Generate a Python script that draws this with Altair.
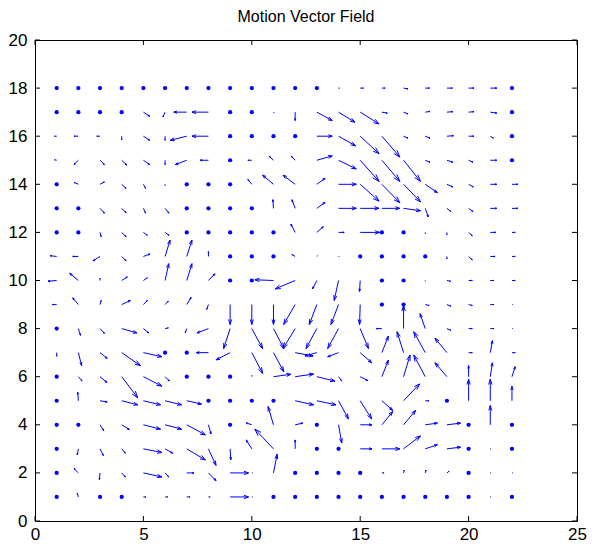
import altair as alt
import pandas as pd

# grid of the motion vector field
xs = list(range(1, 23))          # columns x = 1..22
ys = list(range(18, 0, -1))      # rows y = 18..1 (top to bottom)

# horizontal components (rows from y=18 down to y=1)
U = [
    [0, 0, 0, 0, 0, 0, 0, 0, 0, 0, 0, 0, 0, 0.05, 0.15, 0.15, 0.2, 0.2, 0.25, 0.25, 0.3, 0],
    [0, 0, 0, 0, 0.29, -0.1, -0.6, -0.76, 0, 0, 0.03, 0, 0.71, 0.76, 0.87, 0.25, 0.2, 0.22, 0.27, 0.25, 0.3, 0],
    [-0.1, -0.2, -0.15, 0, 0.29, 0, -0.76, -0.76, 0, 0, 0, 0, 0.71, 0.79, 0.87, 0.83, 0.2, 0.22, 0.3, 0.25, 0.15, 0],
    [-0.1, -0.2, 0.2, 0.23, 0.29, 0, -0.53, -0.38, 0, -0.18, -0.2, -0.18, 0.71, 0.82, 0.87, 0.83, 0.78, 0.22, 0.27, 0.2, 0.3, 0],
    [0, -0.2, 0.2, 0.2, 0.1, 0, 0, 0, 0, -0.18, -0.5, -0.56, 0.38, 0.82, 0.87, 0.83, 0.78, 0.56, 0.27, 0.22, 0.3, 0.28],
    [0, 0, 0.2, 0.2, 0.1, 0.18, 0, 0, 0, 0, -0.03, -0.15, 0.38, 0.82, 0.87, 0.83, 0.78, 0.14, 0.18, 0.2, 0.3, 0.28],
    [0, 0, 0.05, 0.2, 0.18, 0.18, 0, 0, 0, 0, 0, -0.2, 0.3, 0.26, 0.9, 0, 0, 0, 0, 0.17, 0.26, 0.15],
    [-0.3, -0.26, -0.32, 0.2, 0.3, 0.23, 0.24, 0, 0, 0, 0, -0.15, 0.03, 0.03, 0, 0, 0, 0, 0, 0.17, 0.22, 0.15],
    [-0.4, -0.4, 0, 0.26, 0.18, 0.17, 0.24, 0.3, 0, 0, -0.86, -0.92, -0.2, -0.2, -0.03, 0, 0, 0, 0.17, 0.17, 0.17, 0.15],
    [-0.2, -0.26, 0.05, 0.4, 0.18, 0.15, 0.2, -0.08, 0, 0, 0, -0.53, -0.35, -0.35, -0.03, 0, 0, 0.18, 0.18, 0.17, 0.17, 0.03],
    [0, 0.1, 0.2, 0.7, 0.24, 0.15, -0.07, -0.53, -0.3, 0.5, 0.48, -0.56, -0.5, -0.5, 0.38, -0.26, 0, -0.24, 0.18, 0.17, 0.17, 0.03],
    [0, 0.15, 0.33, 0.86, 0.85, 0, 0, -0.56, -0.65, 0.5, 0.48, 0.83, -0.55, -0.5, 0.53, 0.3, -0.3, -0.53, -0.55, 0.17, 0.1, 0.15],
    [0, 0.17, 0.32, 0.74, 0.85, 0.2, 0, 0, 0, 0, 0.8, 0.85, 0.83, 0.15, 0.35, 0.3, 0.3, -0.53, -0.55, 0, 0.1, 0.15],
    [0, -0.03, 0.33, 0.74, 0.79, 0.76, 0.68, 0, 0, 0, 0, 0.85, 0.88, 0.46, 0.53, 0.5, 0.74, 0.17, 0, 0, 0, 0],
    [0, 0, 0.17, 0.35, 0.79, 0.76, 0.86, 0.12, 0, -0.26, -0.25, 0.35, 0, 0.15, 0.54, 0.5, 0.56, 0.56, 0.63, 0, 0, 0],
    [0, -0.05, 0.15, 0.17, 0.85, 0.35, 0.86, 0.35, 0.03, -0.26, -0.86, 0, 0, 0, 0.54, 0.83, 0.78, 0.56, 0.63, 0, 0.03, 0],
    [0, -0.2, -0.03, 0.17, 0.85, 0.17, 0.33, 0.35, 0.85, 0.03, 0.17, 0, 0, 0, 0, 0.1, 0.03, 0.04, 0.1, 0, 0.03, 0.03],
    [0, -0.05, 0, 0, 0.12, 0.12, 0.15, 0.08, 0.85, 0.03, 0, 0, 0, 0, 0, 0, 0, 0, 0, 0, 0.03, 0],
]

# vertical components (rows from y=18 down to y=1)
V = [
    [0, 0, 0, 0, 0, 0, 0, 0, 0, 0, 0, 0, 0, 0, 0, 0, -0.03, 0, 0, 0, 0, 0],
    [0, 0, 0, 0, -0.17, -0.2, 0, 0, 0, 0, -0.03, -0.35, -0.35, -0.42, -0.49, -0.04, -0.07, 0.03, 0.02, 0.02, -0.04, 0],
    [0, 0, 0, -0.15, -0.17, -0.17, -0.17, 0, 0, 0, 0, 0, 0, -0.4, -0.73, -0.87, -0.08, -0.08, 0.02, 0, -0.08, 0],
    [0.02, -0.18, -0.18, -0.2, -0.18, -0.18, -0.18, 0, 0, 0, 0.17, 0.17, 0.18, -0.36, -0.88, -0.88, -0.88, -0.08, -0.08, -0.08, 0, 0],
    [0, 0.08, 0.1, -0.17, -0.17, -0.05, 0, 0, 0, 0.2, 0.38, 0.38, 0.25, 0, -0.7, -0.77, -0.73, -0.35, -0.11, -0.11, 0, 0],
    [0, 0, -0.2, -0.18, -0.2, -0.2, 0, 0, 0, 0, 0.36, 0.36, 0.25, 0, 0, 0, -0.1, -0.36, -0.13, -0.13, 0, 0],
    [0, 0, -0.18, -0.18, -0.12, -0.12, 0, 0, 0, 0, 0, 0.35, 0.24, 0, 0, 0, 0, -0.05, -0.1, -0.14, 0, 0],
    [0.03, 0, -0.18, -0.18, 0.1, 0.68, 0.68, 0.2, 0, 0, 0, 0.08, 0.03, 0, 0, 0, 0, 0, -0.1, -0.14, 0, 0],
    [-0.03, 0.3, 0.1, 0.15, 0.11, 0.7, 0.7, 0.28, 0, 0, 0.03, -0.35, -0.35, -0.83, -0.46, 0, 0, -0.03, -0.03, 0, 0, 0],
    [0, 0.28, 0.17, 0.17, 0.17, 0.14, 0.3, -0.2, -0.83, -0.83, -0.83, -0.83, -0.83, -0.83, -0.83, 0, 0, -0.04, -0.07, -0.04, 0, 0],
    [0, -0.28, -0.2, -0.18, -0.18, 0.03, -0.18, -0.18, -0.83, -0.83, -0.83, -0.83, -0.83, -0.83, -0.83, 0, 0.97, 0.62, -0.07, 0, 0, 0],
    [-0.15, -0.54, -0.24, -0.54, -0.17, 0, 0, 0, -0.3, -0.86, -0.8, -0.14, -0.14, -0.17, -0.42, 0.69, 0.87, 0.87, 0.6, 0, 0.5, 0],
    [0, -0.18, -0.24, -0.88, -0.39, -0.18, 0, 0, 0, 0.05, 0.1, 0.11, -0.18, -0.18, -0.16, 0.69, 0.9, 0.9, 0.58, 0.46, 0.58, 0.42],
    [0, 0.35, -0.05, -0.17, -0.17, -0.17, -0.14, 0, 0, 0, 0, -0.17, -0.17, -0.76, -0.76, -0.4, 0.7, 0, 0, 0.9, 0.9, 0.6],
    [0, 0, -0.24, -0.2, -0.18, -0.18, -0.42, -0.38, 0, 0.08, 0.76, 0.07, 0, -0.76, 0, 0.55, 0.6, 0.07, 0.07, 0, 0.8, 0],
    [0, -0.25, -0.28, -0.18, -0.15, -0.18, -0.46, -0.69, -0.46, 0.37, 0.82, 0.37, 0, 0, 0, 0, 0.54, 0.17, 0.07, 0, 0, 0],
    [0, 0.18, -0.28, -0.17, -0.17, -0.17, 0, -0.32, 0, 0, 0.78, 0, 0, 0, 0, 0, 0.12, 0.12, 0.07, 0, 0, 0],
    [0, 0.15, 0, 0, 0, 0, 0, 0, 0, 0, 0, 0, 0, 0, 0, 0, 0, 0, 0, 0, 0, 0],
]

x_ticks = [0, 5, 10, 15, 20, 25]
y_ticks = [0, 2, 4, 6, 8, 10, 12, 14, 16, 18, 20]

# arrowhead geometry (MATLAB quiver style)
ALPHA, BETA = 0.25, 0.33

seg_rows, dot_rows = [], []
for i, y in enumerate(ys):
    for j, x in enumerate(xs):
        u, v = U[i][j], V[i][j]
        if u == 0 and v == 0:
            dot_rows.append({"x": x, "y": y})
            continue
        tx, ty = x + u, y + v
        seg_rows.append({"x0": x, "y0": y, "x1": tx, "y1": ty})
        seg_rows.append({"x0": tx, "y0": ty,
                         "x1": tx - ALPHA * (u + BETA * v), "y1": ty - ALPHA * (v - BETA * u)})
        seg_rows.append({"x0": tx, "y0": ty,
                         "x1": tx - ALPHA * (u - BETA * v), "y1": ty - ALPHA * (v + BETA * u)})

segs = pd.DataFrame(seg_rows)
dots = pd.DataFrame(dot_rows)

W, H = 542, 481
FONT = "Liberation Sans"
BLUE = "#0000ff"
TL = 5

xscale = alt.Scale(domain=[0, 25], nice=False, zero=False)
yscale = alt.Scale(domain=[0, 20], nice=False, zero=False)
xaxis = alt.Axis(values=x_ticks, labelPadding=5, title=None, grid=False,
                 domain=False, ticks=False, labelFont=FONT, labelFontSize=17,
                 labelColor="black", labelFlush=False)
yaxis = alt.Axis(values=y_ticks, labelPadding=8, title=None, grid=False,
                 domain=False, ticks=False, labelFont=FONT, labelFontSize=17,
                 labelColor="black", labelFlush=False)

arrows = alt.Chart(segs).mark_rule(color=BLUE, strokeWidth=1).encode(
    x=alt.X("x0:Q", scale=xscale, axis=xaxis),
    y=alt.Y("y0:Q", scale=yscale, axis=yaxis),
    x2="x1:Q",
    y2="y1:Q",
)

points = alt.Chart(dots).mark_circle(color=BLUE, size=18, opacity=1).encode(
    x=alt.X("x:Q", scale=xscale, axis=xaxis),
    y=alt.Y("y:Q", scale=yscale, axis=yaxis),
)

xt = pd.DataFrame({"t": x_ticks})
yt = pd.DataFrame({"t": y_ticks})
tick_bottom = alt.Chart(xt).mark_rule(color="black", strokeWidth=1).encode(
    x=alt.X("t:Q", scale=xscale, axis=xaxis), y=alt.value(H), y2=alt.value(H - TL))
tick_top = alt.Chart(xt).mark_rule(color="black", strokeWidth=1).encode(
    x=alt.X("t:Q", scale=xscale, axis=xaxis), y=alt.value(0), y2=alt.value(TL))
tick_left = alt.Chart(yt).mark_rule(color="black", strokeWidth=1).encode(
    y=alt.Y("t:Q", scale=yscale, axis=yaxis), x=alt.value(0), x2=alt.value(TL))
tick_right = alt.Chart(yt).mark_rule(color="black", strokeWidth=1).encode(
    y=alt.Y("t:Q", scale=yscale, axis=yaxis), x=alt.value(W), x2=alt.value(W - TL))

chart = alt.layer(
    arrows, points, tick_bottom, tick_top, tick_left, tick_right
).properties(
    width=W,
    height=H,
    title=alt.TitleParams("Motion Vector Field", font=FONT, fontSize=16,
                          fontWeight="normal", color="black", offset=6),
    padding={"left": 0, "top": 1, "right": 2, "bottom": 2},
    background="white",
).configure_view(
    stroke="black", strokeWidth=1
)

chart.save("out.html", embed_options={"renderer": "svg", "actions": False})
